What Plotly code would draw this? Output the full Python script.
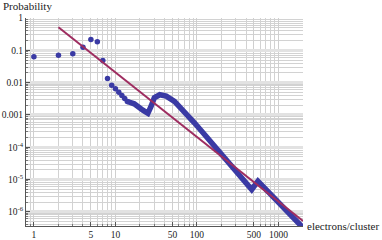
import plotly.graph_objects as go

# separate points (low cluster sizes)
pt_x = [1, 2, 3, 4, 5, 6, 7, 8, 9, 10, 11, 12, 13, 14]
pt_y = [0.063, 0.0705, 0.078, 0.125, 0.216, 0.183, 0.0483, 0.0134, 0.0083,
        0.0064, 0.0050, 0.0040, 0.0032, 0.0026]

# dense part of the distribution (points merge into a band)
band_x = [14, 17, 21.7, 25, 27.5, 30, 35, 42, 53, 70, 93, 118, 252, 470, 560, 1720, 2000]
band_y = [0.0026, 0.0022, 0.0014, 0.00112, 0.0019, 0.0034, 0.0042, 0.0038, 0.0026,
          0.0013, 5.7e-4, 2.85e-4, 3.3e-5, 4.9e-6, 8.9e-6, 4.7e-7, 3.2e-7]

# power-law fit line
fit_x = [2, 2000]
fit_y = [0.52, 5.2e-7]

x_ticks = [1, 5, 10, 50, 100, 500, 1000]
y_ticks = [1, 0.1, 0.01, 0.001, 1e-4, 1e-5, 1e-6]
y_labels = ["1", "0.1", "0.01", "0.001", "10<sup>-4</sup>", "10<sup>-5</sup>", "10<sup>-6</sup>"]

# minor grid positions (2..9 within each decade)
x_minor = [m * 10 ** e for e in range(-1, 4) for m in range(2, 10)]
y_minor = [m * 10.0 ** e for e in range(-7, 0) for m in range(2, 10)]

BLUE = "#3a3aa4"
RED = "#9e2d60"
FONT = "Liberation Serif"

fig = go.Figure()

fig.add_trace(go.Scatter(x=band_x, y=band_y, mode="lines",
                         line=dict(color=BLUE, width=5.5), showlegend=False))
fig.add_trace(go.Scatter(x=pt_x, y=pt_y, mode="markers",
                         marker=dict(color=BLUE, size=5.5), showlegend=False))
fig.add_trace(go.Scatter(x=fit_x, y=fit_y, mode="lines",
                         line=dict(color=RED, width=2), showlegend=False))

fig.update_layout(
    width=382, height=240,
    margin=dict(l=26, r=79, t=18, b=14),
    paper_bgcolor="white", plot_bgcolor="white",
    font=dict(family=FONT, size=9.5, color="#222"),
    xaxis=dict(type="log", range=[-0.097, 3.301], automargin=False,
               tickvals=x_ticks, ticktext=[str(v) for v in x_ticks],
               showgrid=True, gridcolor="#cfcfcf", gridwidth=1,
               minor=dict(tickmode="array", tickvals=x_minor, showgrid=True,
                          gridcolor="#d2d2d2", gridwidth=1,
                          ticks="inside", ticklen=2, tickcolor="#777"),
               showline=True, linecolor="#555", linewidth=1,
               ticks="inside", ticklen=4, tickcolor="#555",
               zeroline=False, tickfont=dict(size=9.5)),
    yaxis=dict(type="log", range=[-6.44, 0], automargin=False,
               tickvals=y_ticks, ticktext=y_labels,
               showgrid=True, gridcolor="#e2e2e2", gridwidth=3,
               minor=dict(tickmode="array", tickvals=y_minor, showgrid=True,
                          gridcolor="#d2d2d2", gridwidth=1,
                          ticks="inside", ticklen=2, tickcolor="#777"),
               showline=True, linecolor="#555", linewidth=1,
               ticks="inside", ticklen=4, tickcolor="#555",
               zeroline=False, tickfont=dict(size=9.5)),
)

fig.add_annotation(text="Probability", xref="paper", yref="paper",
                   x=-0.09, y=1.058, xanchor="left", yanchor="middle",
                   showarrow=False, font=dict(size=11, family=FONT))
fig.add_annotation(text="electrons/cluster", xref="paper", yref="paper",
                   x=1.2816, y=0.0, xanchor="right", yanchor="middle",
                   showarrow=False, font=dict(size=11, family=FONT))

# drop the page's default body margin so the figure sits at the top-left corner
fig.write_html("out.html", config={"displayModeBar": False},
               post_script="document.body.style.margin='0px';")
